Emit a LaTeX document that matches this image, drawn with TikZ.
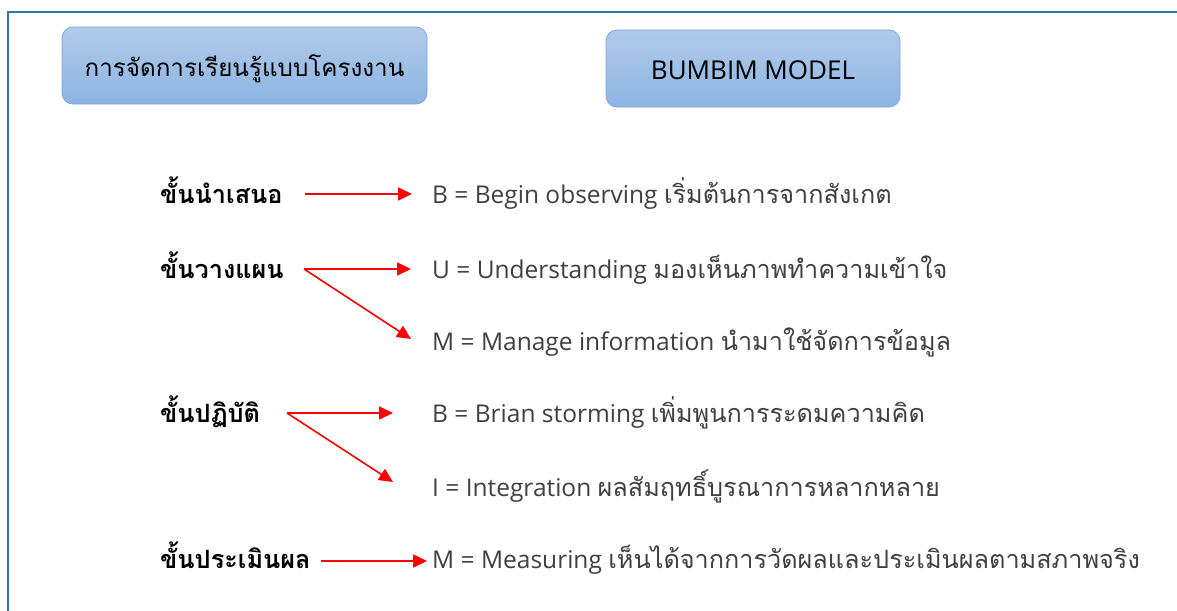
\documentclass[tikz,border=0pt]{standalone}
\usepackage{fontspec}
\setmainfont{Open Sans}
\newfontfamily\thaifont[Script=Thai,Scale=1.03]{Loma}
\usetikzlibrary{arrows.meta}
\newcommand\tf[1]{{\thaifont #1}}
\definecolor{frameblue}{RGB}{46,117,182}
\definecolor{boxtop}{RGB}{176,203,234}
\definecolor{boxbot}{RGB}{141,180,226}
\definecolor{boxline}{RGB}{125,168,220}
\definecolor{txtgray}{RGB}{64,64,64}
\definecolor{arrred}{RGB}{255,0,0}
\tikzset{
  hdrbox/.style={rounded corners=11pt, draw=boxline, line width=0.8pt,
    top color=boxtop, bottom color=boxbot, inner sep=0pt},
  stagelbl/.style={anchor=base west, inner sep=0pt, font=\fontsize{24.5}{28}\selectfont\bfseries\thaifont},
  desc/.style={anchor=base west, inner sep=0pt, text=txtgray, font=\fontsize{24.5}{29}\selectfont},
  arr/.style={draw=arrred, line width=1.6pt, -{Triangle[length=14pt,width=13pt]}},
}
\begin{document}
\begin{tikzpicture}[x=1pt,y=-1pt]
\useasboundingbox (0,0) rectangle (1177,610);
\fill[white] (0,0) rectangle (1177,610);
\draw[frameblue, line width=2.2pt] (8,640) -- (8,12) -- (1200,12);

\node[hdrbox, minimum width=365pt, minimum height=77pt] (h1) at (244.5,65.5) {};
\node[anchor=base, inner sep=0pt, font=\fontsize{23.5}{28}\selectfont\thaifont, text=black] (h1t) at (244.5,76) {การจัดการเรียนรู้แบบโครงงาน};
\node[hdrbox, minimum width=294pt, minimum height=77pt] (h2) at (753,68.5) {};
\node[anchor=base, inner sep=0pt, font=\fontsize{26}{30}\selectfont, text=black] (h2t) at (753,79) {BUMBIM MODEL};

\node[stagelbl] (l1) at (160,203) {ขั้นนำเสนอ};
\node[stagelbl] (l2) at (160,278) {ขั้นวางแผน};
\node[stagelbl] (l3) at (160,422) {ขั้นปฏิบัติ};
\node[stagelbl] (l4) at (160,568) {ขั้นประเมินผล};

\node[desc] (r1) at (432,203) {B = Begin observing \tf{เริ่มต้นการจากสังเกต}};
\node[desc] (r2) at (432,278) {U = Understanding \tf{มองเห็นภาพทำความเข้าใจ}};
\node[desc] (r3) at (432,350) {M = Manage information \tf{นำมาใช้จัดการข้อมูล}};
\node[desc] (r4) at (432,422) {B = Brian storming \tf{เพิ่มพูนการระดมความคิด}};
\node[desc] (r5) at (432,496) {I = Integration \tf{ผลสัมฤทธิ์บูรณาการหลากหลาย}};
\node[desc] (r6) at (432,568) {M = Measuring \tf{เห็นได้จากการวัดผลและประเมินผลตามสภาพจริง}};

\coordinate (s1) at (305,194);
\coordinate (e1) at (412,194);
\coordinate (s2) at (304,269);
\coordinate (e2) at (411,269);
\coordinate (e3) at (411,339);
\coordinate (s3) at (287,413);
\coordinate (e4) at (393,413);
\coordinate (e5) at (393,482);
\coordinate (s4) at (321,561);
\coordinate (e6) at (427,561);

\draw[arr] (s1) -- (e1);
\draw[arr] (s2) -- (e2);
\draw[arr] (s2) -- (e3);
\draw[arr] (s3) -- (e4);
\draw[arr] (s3) -- (e5);
\draw[arr] (s4) -- (e6);
\end{tikzpicture}
\end{document}
